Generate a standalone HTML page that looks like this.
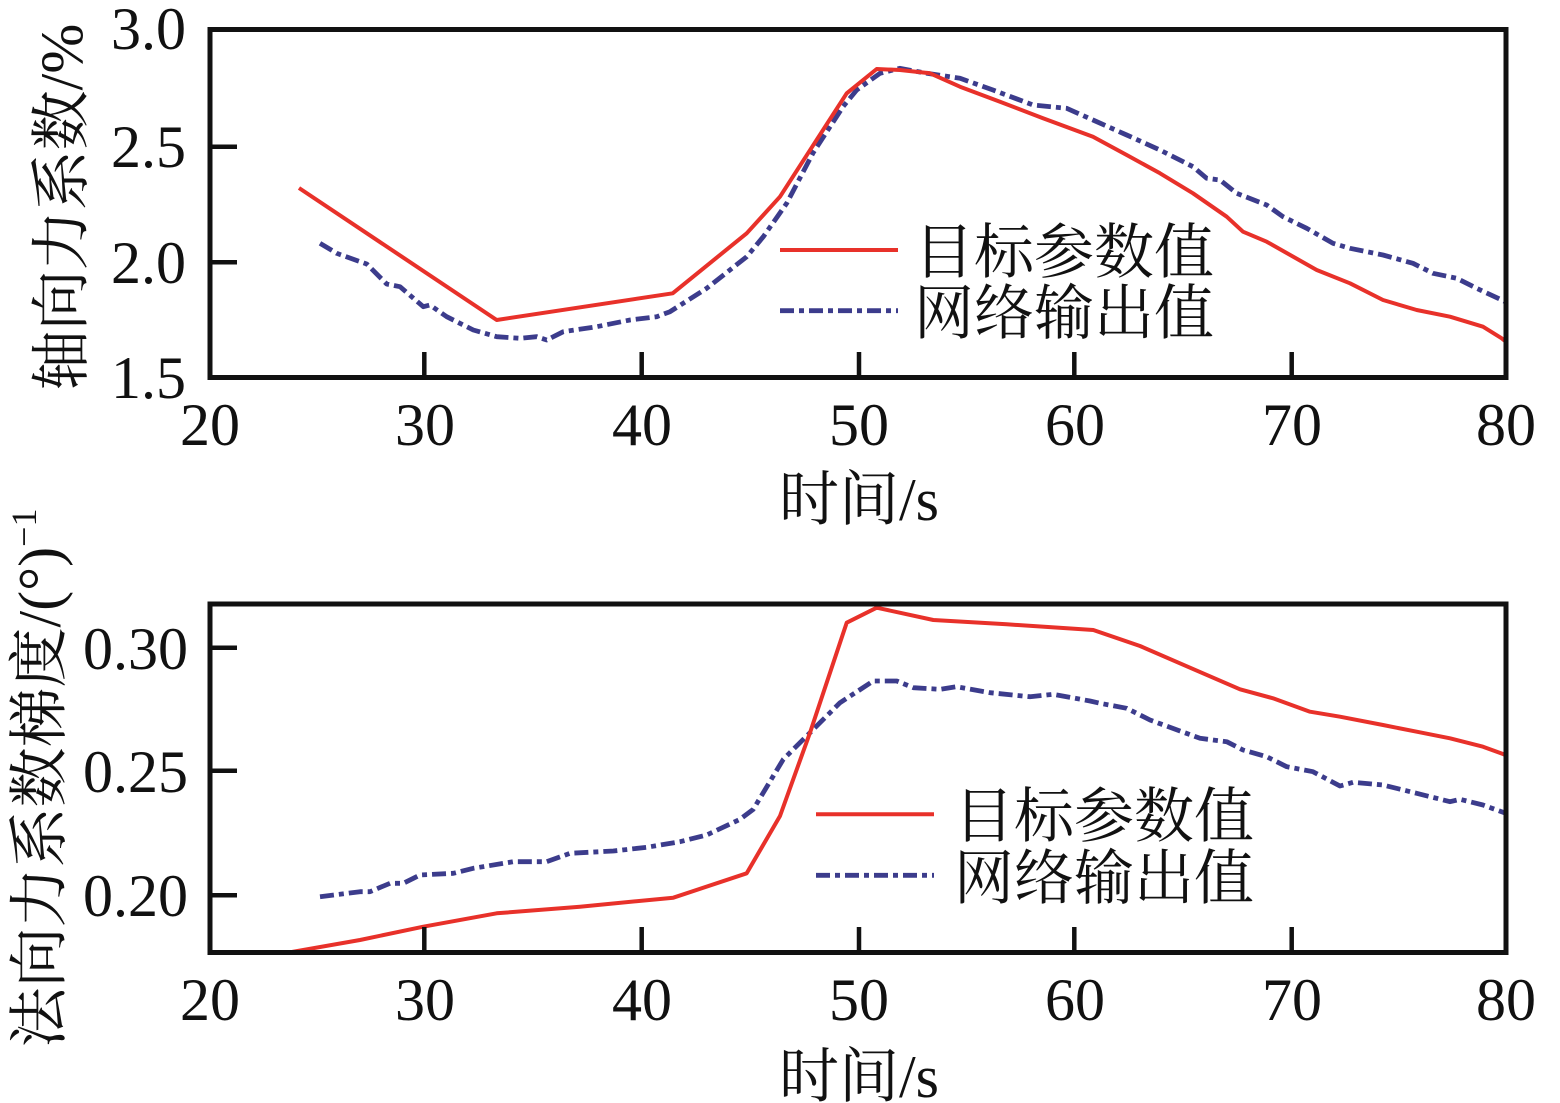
<!DOCTYPE html>
<html>
<head>
<meta charset="utf-8">
<style>
  html, body { margin: 0; padding: 0; background: #ffffff; }
  svg { display: block; }
  .tick { font-family: "Liberation Serif", "Noto Serif CJK SC", serif; font-size: 60px; fill: #111; }
  .cjk { font-family: "Liberation Serif", "Noto Serif CJK SC", serif; font-size: 60px; fill: #111; }
</style>
</head>
<body>
<svg width="1560" height="1103" viewBox="0 0 1560 1103" xmlns="http://www.w3.org/2000/svg">
  <defs>
    <clipPath id="c1"><rect x="210" y="29.5" width="1296" height="348"/></clipPath>
    <clipPath id="c2"><rect x="210" y="604" width="1296" height="348.5"/></clipPath>
  </defs>
  <rect x="0" y="0" width="1560" height="1103" fill="#ffffff"/>

  <!-- ===== TOP PLOT ===== -->
  <g clip-path="url(#c1)" fill="none" stroke-linejoin="round">
    <polyline stroke="#3c3c8c" stroke-width="4.8" stroke-dasharray="14 5 5 5"
      points="320,243.3 336.7,253.3 366.7,264 386.7,284 400,286.7 423.3,306.7 430,305 446.7,316.7 473.3,330 496.7,336.7 520,338.3 536.7,336.7 546.7,340 563.3,331.7 596.7,326.7 630,320 656.7,316.7 670,311.7 706.7,288.3 746.7,256.7 763.3,236.7 786.7,203.3 813,153 843,106.7 856.7,90 880,73.3 900,68.3 926.7,73.3 960,78.3 993,90 1033,105 1066.7,108.3 1093,120 1126.7,135 1160,150 1193,166.7 1206.7,178.3 1220,180 1236.7,193.3 1266.7,205 1283,216.7 1306.7,228.3 1333,243.3 1350,248.3 1383,255 1413,263.3 1433,273.3 1456.7,278.3 1476.7,288.3 1501.7,300 1510,304"/>
    <polyline stroke="#e8312a" stroke-width="4"
      points="299,188 496.7,320 672.7,293.3 746.7,233.3 780,196.7 846.7,93.3 876.7,69 900,70 930,73.3 960,86.7 1000,101.7 1043,118.3 1093,136.7 1126.7,155 1160,173.3 1193,193.3 1226.7,216.7 1243,231.7 1266.7,241.7 1316.7,270 1350,283.3 1383,300 1416.7,310 1450,316.7 1483,326.7 1501.7,338.3 1510,345"/>
  </g>
  <rect x="210" y="29.5" width="1296" height="348" fill="none" stroke="#111" stroke-width="5"/>
  <g stroke="#111" stroke-width="4.5">
    <line x1="424.3" y1="377.5" x2="424.3" y2="352"/>
    <line x1="641.7" y1="377.5" x2="641.7" y2="352"/>
    <line x1="859" y1="377.5" x2="859" y2="352"/>
    <line x1="1074.3" y1="377.5" x2="1074.3" y2="352"/>
    <line x1="1291.7" y1="377.5" x2="1291.7" y2="352"/>
    <line x1="210" y1="146.7" x2="237" y2="146.7"/>
    <line x1="210" y1="262.3" x2="237" y2="262.3"/>
  </g>
  <g class="tick" text-anchor="middle">
    <text x="210" y="445">20</text>
    <text x="425" y="445">30</text>
    <text x="642" y="445">40</text>
    <text x="859" y="445">50</text>
    <text x="1075" y="445">60</text>
    <text x="1292" y="445">70</text>
    <text x="1506" y="445">80</text>
  </g>
  <g class="tick" text-anchor="end">
    <text x="186" y="49">3.0</text>
    <text x="186" y="167">2.5</text>
    <text x="186" y="283">2.0</text>
    <text x="186" y="398">1.5</text>
  </g>
  <line x1="780" y1="250" x2="898" y2="250" stroke="#e8312a" stroke-width="4"/>
  <line x1="780" y1="310.7" x2="898" y2="310.7" stroke="#3c3c8c" stroke-width="4.8" stroke-dasharray="14 5 5 5"/>
  <text class="cjk" x="914" y="273">目标参数值</text>
  <text class="cjk" x="914" y="334">网络输出值</text>
  <text class="cjk" x="859" y="520" text-anchor="middle">时间/s</text>
  <text class="cjk" transform="translate(82,207) rotate(-90)" text-anchor="middle">轴向力系数/%</text>

  <!-- ===== BOTTOM PLOT ===== -->
  <g clip-path="url(#c2)" fill="none" stroke-linejoin="round">
    <polyline stroke="#3c3c8c" stroke-width="4.8" stroke-dasharray="14 5 5 5"
      points="320,896.7 360,891.7 370,891.7 390,883.3 403.3,883.3 420,875 453.3,873.3 473.3,868.3 513.3,861.7 546.7,861.7 570,853.3 613.3,851 646.7,847.3 680,841.7 706.7,835 740,819.3 753.3,809.3 783.3,759.3 806.7,736 840,702.7 873.3,681 896.7,681 913.3,687.7 940,689.3 956.7,686.7 990,692.7 1030,696.7 1053.3,694.3 1090,701 1100,703.3 1126.7,708.3 1150,720 1200,738.3 1226.7,741.7 1243,750 1266.7,756.7 1286.7,766.7 1313,771.7 1340,786 1353,782.3 1383,785 1416.7,793.3 1450,801.7 1460,799.3 1483,805 1503,812.3 1510,815"/>
    <polyline stroke="#e8312a" stroke-width="4"
      points="285,954 293.3,951.7 360,940 423.3,926.7 496.7,913.3 580,906.7 673.3,897.7 746.7,873.3 780,816 810,732.7 846.7,622.7 876.7,607.7 933.3,620 1006.7,624.3 1093.3,630 1140,646 1190,667.7 1240,689.3 1273,698.3 1310,711.7 1340,716.7 1383,725 1416.7,731.7 1450,738.3 1483,746.7 1503,754 1510,757"/>
  </g>
  <rect x="210" y="604" width="1296" height="348.5" fill="none" stroke="#111" stroke-width="5"/>
  <g stroke="#111" stroke-width="4.5">
    <line x1="424.3" y1="952" x2="424.3" y2="927"/>
    <line x1="641.7" y1="952" x2="641.7" y2="927"/>
    <line x1="859" y1="952" x2="859" y2="927"/>
    <line x1="1074.3" y1="952" x2="1074.3" y2="927"/>
    <line x1="1291.7" y1="952" x2="1291.7" y2="927"/>
    <line x1="210" y1="647.7" x2="237" y2="647.7"/>
    <line x1="210" y1="770.7" x2="237" y2="770.7"/>
    <line x1="210" y1="895.3" x2="237" y2="895.3"/>
  </g>
  <g class="tick" text-anchor="middle">
    <text x="210" y="1020">20</text>
    <text x="425" y="1020">30</text>
    <text x="642" y="1020">40</text>
    <text x="859" y="1020">50</text>
    <text x="1075" y="1020">60</text>
    <text x="1292" y="1020">70</text>
    <text x="1506" y="1020">80</text>
  </g>
  <g class="tick" text-anchor="end">
    <text x="188" y="669">0.30</text>
    <text x="188" y="792">0.25</text>
    <text x="188" y="916">0.20</text>
  </g>
  <line x1="816" y1="814.3" x2="934" y2="814.3" stroke="#e8312a" stroke-width="4"/>
  <line x1="816" y1="875.3" x2="934" y2="875.3" stroke="#3c3c8c" stroke-width="4.8" stroke-dasharray="14 5 5 5"/>
  <text class="cjk" x="954" y="837">目标参数值</text>
  <text class="cjk" x="954" y="899">网络输出值</text>
  <text class="cjk" x="859" y="1097" text-anchor="middle">时间/s</text>
  <text class="cjk" transform="translate(60,778) rotate(-90)" text-anchor="middle">法向力系数梯度/(°)<tspan dy="-24" font-size="36">−1</tspan></text>
</svg>
</body>
</html>
